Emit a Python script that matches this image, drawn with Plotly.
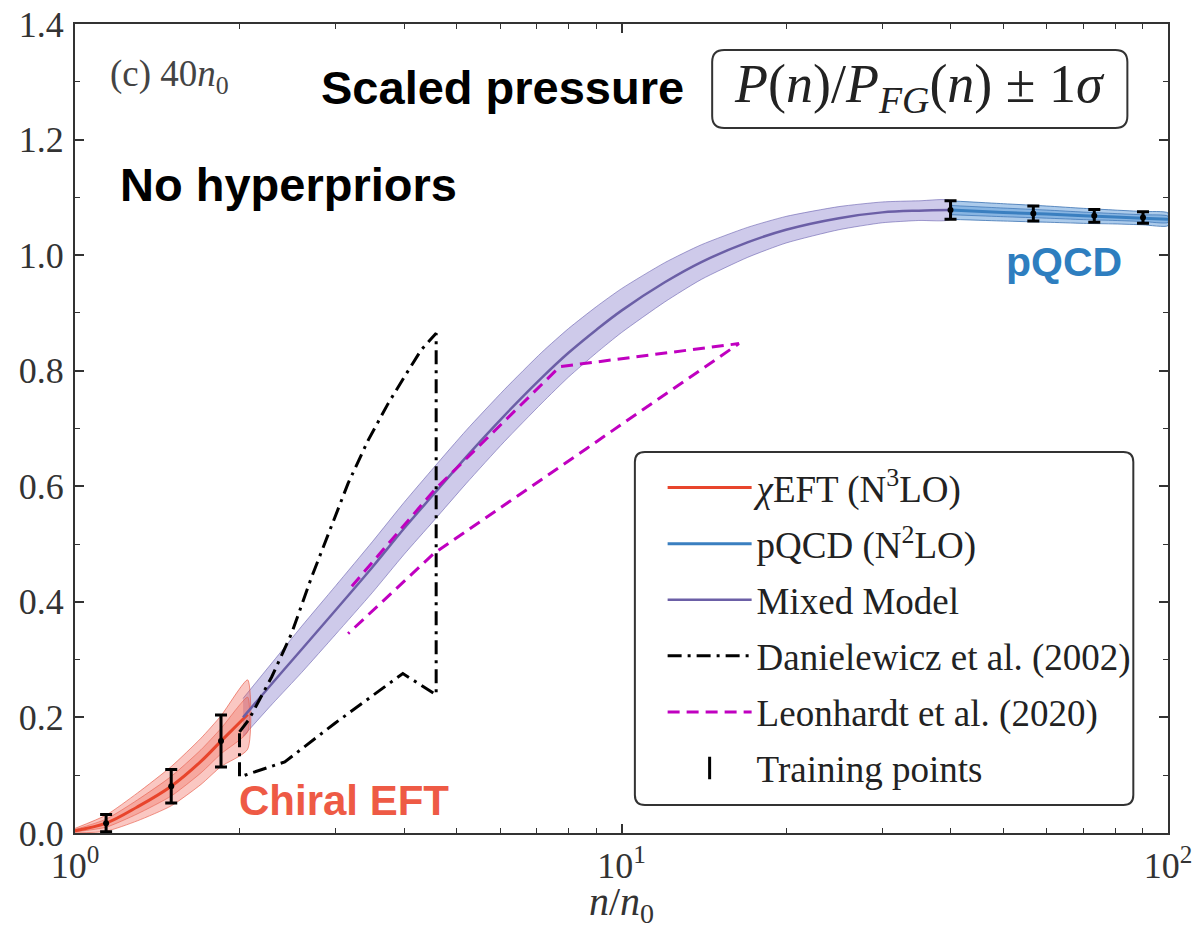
import plotly.graph_objects as go

# ---------------- data ----------------
# chiral EFT (N3LO)
n_eft = [1.0, 1.14, 1.3, 1.5, 1.7, 1.85, 2.07]
y_eft = [0.004, 0.017, 0.045, 0.081, 0.124, 0.159, 0.205]
s2_eft = [0.004, 0.014, 0.024, 0.034, 0.040, 0.044, 0.060]
s1_eft = [0.002, 0.007, 0.012, 0.017, 0.020, 0.022, 0.030]

# mixed model
n_mix = [2.03, 2.3, 2.6, 3.0, 3.5, 4.0, 4.54, 5.2, 6.1, 7.15, 8.0, 9.0, 10, 12, 14, 17, 20, 25, 30, 35, 40]
y_mix = [0.20, 0.26, 0.318, 0.386, 0.46, 0.527, 0.587, 0.651, 0.722, 0.788, 0.831, 0.871, 0.904,
         0.953, 0.988, 1.022, 1.044, 1.064, 1.074, 1.077, 1.078]
s_mix = [0.033, 0.036, 0.040, 0.042, 0.044, 0.045, 0.046, 0.046, 0.045, 0.044, 0.042, 0.040,
         0.038, 0.034, 0.030, 0.026, 0.023, 0.020, 0.018, 0.017, 0.016]

# pQCD (N2LO)
n_qcd = [40, 50, 60, 70, 80, 90, 100]
y_qcd = [1.078, 1.074, 1.071, 1.068, 1.066, 1.064, 1.062]
s2_qcd = [0.016, 0.015, 0.014, 0.013, 0.012, 0.0115, 0.011]
s1_qcd = [0.008, 0.0075, 0.007, 0.0065, 0.006, 0.0058, 0.0055]

# Danielewicz et al. (2002) region
n_dan = [2.0, 2.08, 2.29, 2.49, 2.71, 2.91, 3.16, 3.44, 3.74, 4.01, 4.30, 4.58, 4.58, 3.98, 2.99, 2.42, 2.0, 2.0]
y_dan = [0.175, 0.196, 0.27, 0.345, 0.443, 0.518, 0.605, 0.68, 0.743, 0.79, 0.836, 0.865,
         0.239, 0.276, 0.19, 0.123, 0.097, 0.175]

# Leonhardt et al. (2020) region
n_leo = [3.21, 4.54, 7.71, 16.4, 8.65, 4.54, 3.16]
y_leo = [0.427, 0.593, 0.807, 0.847, 0.666, 0.484, 0.345]

# training points
n_train = [1.14, 1.50, 1.85, 40, 56.7, 73.3, 90]
y_train = [0.017, 0.081, 0.159, 1.078, 1.072, 1.068, 1.065]
e_train = [0.015, 0.029, 0.045, 0.016, 0.013, 0.011, 0.010]

x_tickvals = [1, 10, 100]
x_ticktext = ["10<sup>0</sup>", "10<sup>1</sup>", "10<sup>2</sup>"]
x_minor = [2, 3, 4, 5, 6, 7, 8, 9, 20, 30, 40, 50, 60, 70, 80, 90]
y_tickvals = [0.0, 0.2, 0.4, 0.6, 0.8, 1.0, 1.2, 1.4]
y_ticktext = ["0.0", "0.2", "0.4", "0.6", "0.8", "1.0", "1.2", "1.4"]

# ---------------- style ----------------
SERIF = "Liberation Serif, Times New Roman, serif"
SANS = "Liberation Sans, Arial, sans-serif"
RED = "#e8452c"
BLUE = "#3a7fc0"
PURPLE = "#6b5fa6"
MAGENTA = "#c000c0"

fig = go.Figure()


def band(x, y, s, fill, edge, lw=1):
    up = [a + b for a, b in zip(y, s)]
    lo = [a - b for a, b in zip(y, s)]
    fig.add_trace(go.Scatter(x=x + x[::-1], y=up + lo[::-1], mode="lines",
                             fill="toself", fillcolor=fill,
                             line=dict(color=edge, width=lw, shape="spline", smoothing=0.6),
                             showlegend=False, hoverinfo="skip"))


# bands
band(n_mix, y_mix, s_mix, "rgba(125,115,200,0.38)", "rgba(95,85,170,0.55)")
band(n_eft, y_eft, s2_eft, "rgba(240,95,80,0.35)", "rgba(230,80,60,0.6)")
band(n_eft, y_eft, s1_eft, "rgba(240,95,80,0.30)", "rgba(230,80,60,0.5)")
band(n_qcd, y_qcd, s2_qcd, "rgba(70,140,210,0.45)", "rgba(40,100,170,0.7)")
band(n_qcd, y_qcd, s1_qcd, "rgba(70,140,210,0.35)", "rgba(40,100,170,0.6)")

# center lines
fig.add_trace(go.Scatter(x=n_eft, y=y_eft, mode="lines", name="<i>χ</i>EFT (N<sup>3</sup>LO)",
                         legendgroup="a", line=dict(color=RED, width=3, shape="spline")))
fig.add_trace(go.Scatter(x=n_qcd, y=y_qcd, mode="lines", name="pQCD (N<sup>2</sup>LO)",
                         legendgroup="b", line=dict(color=BLUE, width=3, shape="spline")))
fig.add_trace(go.Scatter(x=n_mix, y=y_mix, mode="lines", name="Mixed Model",
                         legendgroup="c", line=dict(color=PURPLE, width=2.5, shape="spline")))
fig.add_trace(go.Scatter(x=n_dan, y=y_dan, mode="lines", name="Danielewicz et al. (2002)",
                         legendgroup="d", line=dict(color="black", width=3, dash="14px,6px,3px,6px")))
fig.add_trace(go.Scatter(x=n_leo, y=y_leo, mode="lines", name="Leonhardt et al. (2020)",
                         legendgroup="e", line=dict(color=MAGENTA, width=3, dash="12px,7px")))
fig.add_trace(go.Scatter(x=n_train, y=y_train, mode="markers", showlegend=False,
                         marker=dict(color="black", size=6),
                         error_y=dict(type="data", array=e_train, color="black", thickness=3, width=6)))
fig.add_trace(go.Scatter(x=[None], y=[None], mode="markers", name="Training points",
                         legendgroup="f",
                         marker=dict(symbol="line-ns-open", size=30, color="black",
                                     line=dict(color="black", width=3))))

# ---------------- layout ----------------
W, H = 1196, 929
L, T = 75, 24
PR = 1168                    # right edge of the frame
R, B = W - PR, H - 833
pw, ph = W - L - R, H - T - B
SX = pw / (1178 - 75)        # horizontal scale relative to the reference


def px(x):
    # reference pixel -> paper x
    return (x - 75) * SX / pw


def py(y):
    return (H - B - y) / ph


def rrect(x0, y0, x1, y1, r):
    rx, ry = r / pw, r / ph
    a, b, c, d = px(x0), py(y1), px(x1), py(y0)
    return (f"M {a+rx},{b} L {c-rx},{b} Q {c},{b} {c},{b+ry} L {c},{d-ry} Q {c},{d} {c-rx},{d} "
            f"L {a+rx},{d} Q {a},{d} {a},{d-ry} L {a},{b+ry} Q {a},{b} {a+rx},{b} Z")


axis_common = dict(showline=True, linecolor="#333", linewidth=2, mirror="ticks",
                   ticks="inside", ticklen=9, tickwidth=1.5, tickcolor="#333",
                   showgrid=False, zeroline=False, automargin=False,
                   tickfont=dict(family=SERIF, size=36, color="#333"))

fig.update_xaxes(type="log", range=[0, 2], tickvals=x_tickvals, ticktext=x_ticktext,
                 minor=dict(tickvals=x_minor, ticks="inside", ticklen=5, tickwidth=1.2, tickcolor="#333"),
                 title=dict(text="<i>n</i>/<i>n</i><sub>0</sub>", font=dict(family=SERIF, size=40, color="#333"),
                            standoff=4),
                 **axis_common)
fig.update_yaxes(range=[0, 1.4], tickvals=y_tickvals, ticktext=y_ticktext, ticklabelstandoff=2,
                 minor=dict(dtick=0.1, ticks="inside", ticklen=5, tickwidth=1.2, tickcolor="#333"),
                 **axis_common)


def note(x, y, text, family, size, color):
    return dict(xref="paper", yref="paper", x=px(x), y=py(y), text=text, showarrow=False,
                xanchor="center", yanchor="middle", font=dict(family=family, size=size, color=color))


fig.update_layout(
    width=W, height=H, margin=dict(l=L, r=R, t=T, b=B, autoexpand=False),
    plot_bgcolor="white", paper_bgcolor="white",
    showlegend=True,
    legend=dict(x=px(668), y=py(457), xanchor="left", yanchor="top",
                bgcolor="rgba(0,0,0,0)", borderwidth=0,
                font=dict(family=SERIF, size=37, color="#222"),
                itemwidth=84, tracegroupgap=5, traceorder="grouped"),
    shapes=[
        dict(type="path", xref="paper", yref="paper", path=rrect(640, 452, 1143, 805, 10),
             line=dict(color="#333", width=2), fillcolor="white", layer="below"),
        dict(type="path", xref="paper", yref="paper", path=rrect(718, 50, 1137, 128, 12),
             line=dict(color="#333", width=2), fillcolor="white", layer="above"),
    ],
    annotations=[
        note(170, 76, "(c) 40<i>n</i><sub>0</sub>", SERIF, 37, "#444"),
        note(506, 88, "<b>Scaled pressure</b>", SANS, 47, "black"),
        note(290, 185, "<b>No hyperpriors</b>", SANS, 47, "black"),
        note(927, 88, "<i>P</i>(<i>n</i>)/<i>P</i><sub><i>FG</i></sub>(<i>n</i>) ± 1<i>σ</i>",
             SERIF, 54, "#222"),
        note(1073, 262, "<b>pQCD</b>", SANS, 41, "#2e7ebf"),
        note(346, 800, "<b>Chiral EFT</b>", SANS, 42, "#ee5a45"),
    ],
)

fig.write_html("out.html", config={"displayModeBar": False},
               post_script="document.documentElement.style.margin='0';"
                           "document.documentElement.style.overflow='hidden';"
                           "document.body.style.margin='0';document.body.style.padding='0';"
                           "document.body.style.overflow='hidden';")
